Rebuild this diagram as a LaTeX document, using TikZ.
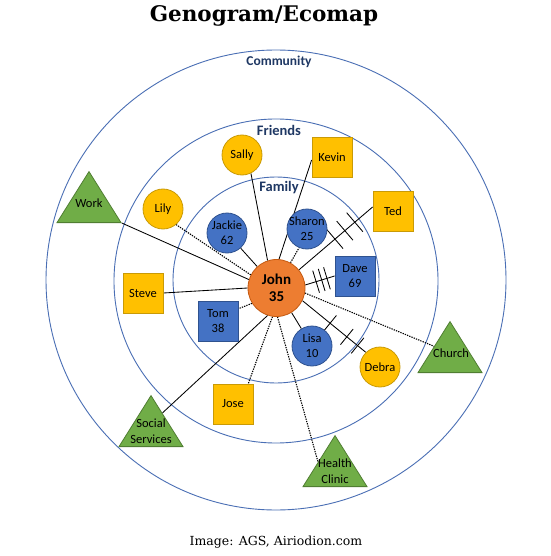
\documentclass[tikz,border=0pt]{standalone}
\usepackage{fontspec}
\newfontfamily\calibri{Carlito}
\newfontfamily\georgia{DejaVu Serif}
\usetikzlibrary{shapes.geometric,calc,backgrounds}
\definecolor{ring}{HTML}{4A6FB5}
\definecolor{navy}{HTML}{1F3864}
\definecolor{yel}{HTML}{FFC000}
\definecolor{yelD}{HTML}{C99A06}
\definecolor{blu}{HTML}{4472C4}
\definecolor{bluD}{HTML}{2F528F}
\definecolor{org}{HTML}{ED7D31}
\definecolor{orgD}{HTML}{C55A11}
\definecolor{grn}{HTML}{70AD47}
\definecolor{grnD}{HTML}{507E32}
\newcommand\hashmark[4]{\draw[conn] ($(#1)!#3!(#2)!#4!90:(#2)$) -- ($(#1)!#3!(#2)!#4!-90:(#2)$);}
\begin{document}
\begin{tikzpicture}[x=1pt,y=-1pt,
  every node/.style={font=\calibri\fontsize{12.5}{14.6}\selectfont, align=center},
  person/.style={circle, minimum size=40pt, inner sep=-5pt, line width=0.8pt},
  friendc/.style={person, fill=yel, draw=yelD},
  famc/.style={person, fill=blu, draw=bluD},
  sq/.style={rectangle, minimum width=40pt, minimum height=40pt, inner sep=0pt, line width=0.8pt},
  friends/.style={sq, fill=yel, draw=yelD},
  fams/.style={sq, fill=blu, draw=bluD},
  tri/.style={isosceles triangle, isosceles triangle stretches, shape border rotate=90,
    minimum width=64pt, minimum height=51pt, inner sep=0pt, fill=grn, draw=grnD,
    line width=0.8pt, anchor=lower side},
  ringlabel/.style={font=\calibri\bfseries\fontsize{14.5}{16}\selectfont, text=navy},
  ringline/.style={draw=ring, line width=0.9pt},
  conn/.style={line width=0.85pt, black},
  dotc/.style={line width=1.1pt, black, dash pattern=on 1.3pt off 1.1pt}
]
\useasboundingbox (0,0) rectangle (550,556);

% titles
\node[font=\georgia\bfseries\fontsize{21.5}{25}\selectfont] (title) at (264,16) {Genogram/Ecomap};
\node[font=\georgia\fontsize{12.5}{15}\selectfont] (caption) at (276,542) {Image: AGS, Airiodion.com};

% ring labels
\node[ringlabel, font=\calibri\bfseries\fontsize{13.5}{16}\selectfont] (community) at (279,62) {Community};
\node[ringlabel] (friendsl) at (279,130) {Friends};
\node[ringlabel] (familyl) at (279,188) {Family};

% triangles
\node[tri] (work) at (89,223) {};
\node[tri] (ss) at (151,447) {};
\node[tri] (hc) at (335,487) {};
\node[tri] (church) at (450,373) {};
\node (workt) at (89,203) {Work};
\node[font=\calibri\fontsize{12.5}{16}\selectfont] (sst) at (151,431) {Social\\Services};
\node[font=\calibri\fontsize{12.5}{16}\selectfont] (hct) at (335,471) {Health\\Clinic};
\node (churcht) at (451,353) {Church};

% friends
\node[friendc] (sally) at (242,155) {Sally};
\node[friendc] (lily) at (163,209) {Lily};
\node[friendc] (debra) at (380,367) {Debra};
\node[friends] (kevin) at (332,157) {Kevin};
\node[friends] (ted) at (393,211) {Ted};
\node[friends] (steve) at (143,293) {Steve};
\node[friends] (jose) at (233,404) {Jose};

% family
\node[famc] (jackie) at (227,233) {Jackie\\62};
\node[famc] (sharon) at (307,229) {Sharon\\25};
\node[famc] (lisa) at (312,346) {Lisa\\10};
\node[fams] (dave) at (355,276) {Dave\\69};
\node[fams] (tom) at (218,321) {Tom\\38};

% John
\node[circle, minimum size=57pt, inner sep=0pt, fill=org, draw=orgD, line width=0.8pt,
  font=\calibri\bfseries\fontsize{15}{16.5}\selectfont] (john) at (276.5,288) {John\\35};

\begin{scope}[on background layer]
\fill[white] (0,0) rectangle (550,556);
\draw[ringline] (276,280) circle[radius=230pt];
\draw[ringline] (276,281) circle[radius=162pt];
\draw[ringline] (276,280) circle[radius=103pt];

\coordinate (kevinend) at ([yshift=-3pt]kevin.west);
\coordinate (tedend) at ([yshift=4pt]ted.west);
\coordinate (ssend) at ($(ss.apex)!0.35!(ss.right corner)$);
\coordinate (joseend) at ($(jose.north)!0.75!(jose.north east)$);
\coordinate (hcend) at ($(hc.apex)!0.52!(hc.left corner)$);
\coordinate (churchend) at ($(church.apex)!0.49!(church.left corner)$);

\draw[conn] (john.108) -- (sally.-64);
\draw[conn] (john.85) -- (kevinend);
\draw[dotc] (john.61) -- (sharon.-113);
\draw[conn] (jackie) -- (john);
\draw[dotc] (john.153) -- (lily.-50);
\draw[conn] (john.163) -- (work.right corner);
\draw[conn] (john.180) -- (steve.east);
\draw[dotc] (john.212) -- (tom.31);
\draw[conn] (john.-108) -- (ssend);
\draw[dotc] (john.-98) -- (joseend);
\draw[dotc] (john.-88) -- (hcend);
\draw[conn] (lisa) -- (john);
\draw[conn] (john.-26) -- (debra.134);
\draw[conn] (john.39) -- (tedend);
\draw[conn] (john.6) -- (dave.west);
\draw[dotc] (john.-10) -- (churchend);

\hashmark{john.39}{tedend}{0.489}{12.5pt}
\hashmark{john.39}{tedend}{0.623}{12.5pt}
\hashmark{john.39}{tedend}{0.758}{12.5pt}
\hashmark{john.6}{dave.west}{0.37}{11.5pt}
\hashmark{john.6}{dave.west}{0.56}{11.5pt}
\hashmark{john.6}{dave.west}{0.74}{11.5pt}
\hashmark{john.-26}{debra.134}{0.436}{10pt}
\hashmark{john.-26}{debra.134}{0.70}{10pt}
\hashmark{john.-26}{debra.134}{0.87}{10pt}
\end{scope}
\end{tikzpicture}
\end{document}
